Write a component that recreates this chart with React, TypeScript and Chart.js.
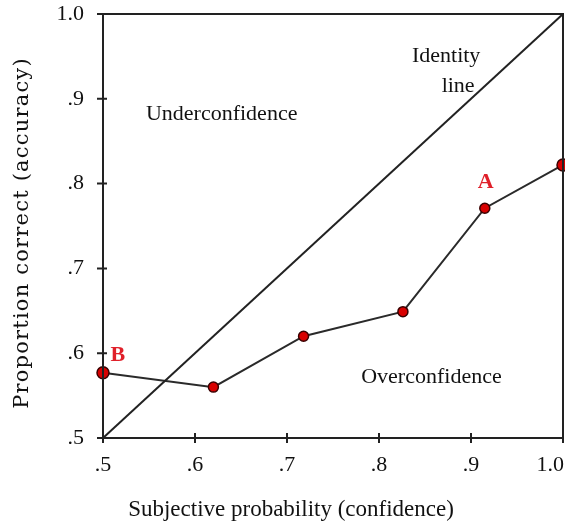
import React, { useEffect, useRef } from "react";
import { Chart, registerables } from "chart.js";

Chart.register(...registerables);

const confidence = [0.5, 0.62, 0.718, 0.826, 0.915, 1.0];
const accuracy = [0.577, 0.56, 0.62, 0.649, 0.771, 0.822];
const pointSizes = [6, 5, 5, 5, 5, 6];
const identityX = [0.5, 1.0];
const tickValues = [0.5, 0.6, 0.7, 0.8, 0.9, 1.0];
const xTitle = "Subjective probability (confidence)";
const yTitle = "Proportion correct (accuracy)";
const notes = [
  { text: "Underconfidence", x: 0.629, y: 0.882, color: "#111" },
  { text: "Identity", x: 0.873, y: 0.95, color: "#111" },
  { text: "line", x: 0.886, y: 0.915, color: "#111" },
  { text: "Overconfidence", x: 0.857, y: 0.572, color: "#111" },
  { text: "B", x: 0.516, y: 0.597, color: "#e0202a", bold: true },
  { text: "A", x: 0.916, y: 0.801, color: "#e0202a", bold: true },
];

const FONT = "'Liberation Serif', 'Times New Roman', serif";
const YFONT = "'DejaVu Serif', serif";
const fmt = (v: number) => (Math.abs(v - 1) < 1e-9 ? "1.0" : "." + Math.round(v * 10));

const framePlugin = {
  id: "frame",
  afterDraw(chart: any) {
    const { ctx, chartArea: a, scales, width } = chart;
    const xs = scales.x, ys = scales.y;
    ctx.save();
    ctx.strokeStyle = "#222";
    ctx.lineWidth = 2;
    ctx.strokeRect(a.left, a.top, a.right - a.left, a.bottom - a.top);
    ctx.beginPath();
    tickValues.forEach((v) => {
      const px = xs.getPixelForValue(v);
      ctx.moveTo(px, a.bottom - 5);
      ctx.lineTo(px, a.bottom + 5);
      const py = ys.getPixelForValue(v);
      ctx.moveTo(a.left - 6, py);
      ctx.lineTo(a.left + 4, py);
    });
    ctx.stroke();
    ctx.textAlign = "center";
    ctx.textBaseline = "middle";
    // x tick labels, kept inside the canvas
    ctx.fillStyle = "#111";
    ctx.font = `22px ${FONT}`;
    tickValues.forEach((v) => {
      const label = fmt(v);
      const w = ctx.measureText(label).width;
      const px = Math.min(xs.getPixelForValue(v), width - w / 2 - 1);
      ctx.fillText(label, px, a.bottom + 27);
    });
    notes.forEach((n) => {
      ctx.font = `${n.bold ? "bold " : ""}22px ${FONT}`;
      ctx.fillStyle = n.color;
      ctx.fillText(n.text, xs.getPixelForValue(n.x), ys.getPixelForValue(n.y));
    });
    ctx.fillStyle = "#111";
    ctx.font = `23px ${FONT}`;
    ctx.fillText(xTitle, 291, 510);
    ctx.translate(23, 233);
    ctx.rotate(-Math.PI / 2);
    ctx.font = `21px ${YFONT}`;
    try { (ctx as any).letterSpacing = "1.2px"; } catch (e) {}
    ctx.fillText(yTitle, 0, 0);
    ctx.restore();
  },
};

export default function App() {
  const ref = useRef<HTMLCanvasElement>(null);
  useEffect(() => {
    if (!ref.current) return;
    const chart = new Chart(ref.current, {
      type: "line",
      data: {
        datasets: [
          {
            data: identityX.map((v) => ({ x: v, y: v })),
            borderColor: "#222",
            borderWidth: 2,
            pointRadius: 0,
            clip: false as any,
          },
          {
            data: confidence.map((c, i) => ({ x: c, y: accuracy[i] })),
            borderColor: "#2a2a2a",
            borderWidth: 2,
            pointBackgroundColor: "#d80000",
            pointBorderColor: "#3a0000",
            pointBorderWidth: 1.5,
            pointRadius: pointSizes,
            clip: false as any,
          },
        ],
      },
      options: {
        responsive: false,
        animation: false,
        layout: { autoPadding: false, padding: { top: 14, right: 2, left: 0, bottom: 0 } },
        plugins: { legend: { display: false }, tooltip: { enabled: false } },
        scales: {
          x: {
            type: "linear",
            min: 0.5,
            max: 1.0,
            afterFit: (s: any) => { s.height = 86; s.paddingLeft = 0; s.paddingRight = 0; },
            afterBuildTicks: (s: any) => { s.ticks = tickValues.map((v) => ({ value: v })); },
            grid: { display: false, drawTicks: false },
            border: { display: false },
            ticks: { display: false },
          },
          y: {
            type: "linear",
            min: 0.5,
            max: 1.0,
            afterFit: (s: any) => { s.width = 103; s.paddingTop = 0; s.paddingBottom = 0; },
            afterBuildTicks: (s: any) => { s.ticks = tickValues.map((v) => ({ value: v })); },
            grid: { display: false, drawTicks: false },
            border: { display: false },
            ticks: {
              callback: (v: any) => fmt(Number(v)),
              color: "#111",
              font: { family: FONT, size: 22 },
              padding: 19,
            },
          },
        },
      },
      plugins: [framePlugin],
    });
    return () => chart.destroy();
  }, []);
  return (
    <div style={{ position: "fixed", left: 0, top: 0, width: 565, height: 524, background: "#fff" }}>
      <canvas ref={ref} width={565} height={524} />
    </div>
  );
}
